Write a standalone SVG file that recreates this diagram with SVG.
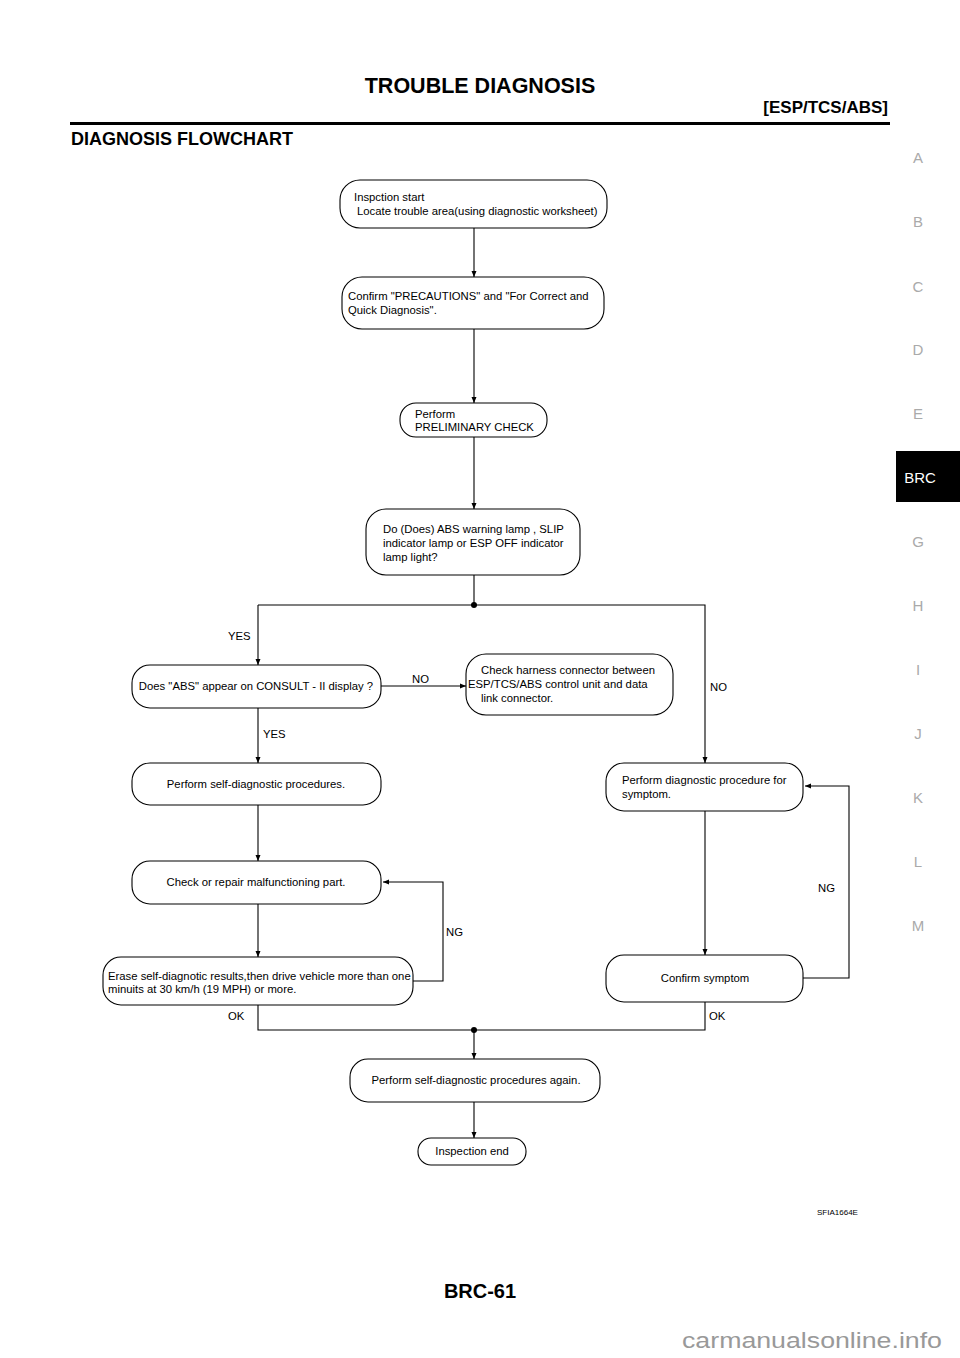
<svg xmlns="http://www.w3.org/2000/svg" width="960" height="1358" viewBox="0 0 960 1358">
<style>
.n{fill:#fff;stroke:#000;stroke-width:1.1}
.t{font-family:"Liberation Sans",Arial,sans-serif;font-size:11.3px;fill:#000}
.c{text-anchor:middle}
.w{stroke:#000;stroke-width:1.1;fill:none}
.side{font-family:"Liberation Sans",Arial,sans-serif;font-size:15px;fill:#aaa;text-anchor:middle}
</style>
<defs>
<marker id="ar" viewBox="0 0 6 6" refX="6" refY="3" markerWidth="6" markerHeight="6" orient="auto" markerUnits="userSpaceOnUse">
<path d="M0,0.5 L6,3 L0,5.5 z" fill="#000"/>
</marker>
</defs>
<rect width="960" height="1358" fill="#fff"/>
<g id="header">
<text x="480" y="93" font-family="Liberation Sans,Arial,sans-serif" font-size="21.5" font-weight="bold" text-anchor="middle">TROUBLE DIAGNOSIS</text>
<text x="888" y="113" font-family="Liberation Sans,Arial,sans-serif" font-size="17" font-weight="bold" text-anchor="end">[ESP/TCS/ABS]</text>
<rect x="70" y="122" width="820" height="3" fill="#000"/>
<text x="71" y="145" font-family="Liberation Sans,Arial,sans-serif" font-size="18" font-weight="bold">DIAGNOSIS FLOWCHART</text>
</g>
<g id="side-index">
<text class="side" x="918" y="163">A</text>
<text class="side" x="918" y="227">B</text>
<text class="side" x="918" y="292">C</text>
<text class="side" x="918" y="355">D</text>
<text class="side" x="918" y="419">E</text>
<rect x="896" y="451" width="64" height="51" fill="#000"/>
<text x="920" y="483" font-family="Liberation Sans,Arial,sans-serif" font-size="15" fill="#fff" text-anchor="middle">BRC</text>
<text class="side" x="918" y="547">G</text>
<text class="side" x="918" y="611">H</text>
<text class="side" x="918" y="675">I</text>
<text class="side" x="918" y="739">J</text>
<text class="side" x="918" y="803">K</text>
<text class="side" x="918" y="867">L</text>
<text class="side" x="918" y="931">M</text>
</g>
<g id="connectors">
<path class="w" d="M474,228 V277" marker-end="url(#ar)"/>
<path class="w" d="M474,329 V403" marker-end="url(#ar)"/>
<path class="w" d="M474,437 V509" marker-end="url(#ar)"/>
<path class="w" d="M474,575 V605"/>
<path class="w" d="M258,605 H705 V763" marker-end="url(#ar)"/>
<path class="w" d="M258,605 V665" marker-end="url(#ar)"/>
<circle cx="474" cy="605" r="3" fill="#000"/>
<path class="w" d="M381,686 H466" marker-end="url(#ar)"/>
<path class="w" d="M258,708 V763" marker-end="url(#ar)"/>
<path class="w" d="M258,805 V861" marker-end="url(#ar)"/>
<path class="w" d="M258,904 V957" marker-end="url(#ar)"/>
<path class="w" d="M413,981 H443 V882 H383" marker-end="url(#ar)"/>
<path class="w" d="M705,811 V955" marker-end="url(#ar)"/>
<path class="w" d="M803,978 H849 V786 H805" marker-end="url(#ar)"/>
<path class="w" d="M258,1005 V1030 H705 V1002"/>
<circle cx="474" cy="1030" r="3" fill="#000"/>
<path class="w" d="M474,1030 V1059" marker-end="url(#ar)"/>
<path class="w" d="M474,1102 V1138" marker-end="url(#ar)"/>
<text class="t" x="228" y="640">YES</text>
<text class="t" x="263" y="738">YES</text>
<text class="t" x="412" y="683">NO</text>
<text class="t" x="710" y="691">NO</text>
<text class="t" x="446" y="936">NG</text>
<text class="t" x="818" y="892">NG</text>
<text class="t" x="228" y="1020">OK</text>
<text class="t" x="709" y="1020">OK</text>
</g>
<g id="n1"><rect class="n" x="340" y="180" width="267" height="48" rx="20"/>
<text class="t" x="354" y="201">Inspction start</text><text class="t" x="357" y="215">Locate trouble area(using diagnostic worksheet)</text></g>
<g id="n2"><rect class="n" x="342" y="277" width="262" height="52" rx="20"/>
<text class="t" x="348" y="300">Confirm "PRECAUTIONS" and "For Correct and</text><text class="t" x="348" y="314">Quick Diagnosis".</text></g>
<g id="n3"><rect class="n" x="400" y="403" width="147" height="34" rx="16"/>
<text class="t" x="415" y="418">Perform</text><text class="t" x="415" y="431">PRELIMINARY CHECK</text></g>
<g id="n4"><rect class="n" x="366" y="509" width="214" height="66" rx="20"/>
<text class="t" x="383" y="533">Do (Does) ABS warning lamp , SLIP</text><text class="t" x="383" y="547">indicator lamp or ESP OFF indicator</text><text class="t" x="383" y="561">lamp light?</text></g>
<g id="n5"><rect class="n" x="132" y="665" width="249" height="43" rx="18"/>
<text class="t c" x="256" y="690">Does "ABS" appear on CONSULT - II display ?</text></g>
<g id="n6"><rect class="n" x="466" y="654" width="207" height="61" rx="20"/>
<text class="t" x="481" y="674">Check harness connector between</text><text class="t" x="468" y="688">ESP/TCS/ABS control unit and data</text><text class="t" x="481" y="702">link connector.</text></g>
<g id="n7"><rect class="n" x="132" y="763" width="249" height="42" rx="18"/>
<text class="t c" x="256" y="788">Perform self-diagnostic procedures.</text></g>
<g id="n8"><rect class="n" x="132" y="861" width="249" height="43" rx="18"/>
<text class="t c" x="256" y="886">Check or repair malfunctioning part.</text></g>
<g id="n9"><rect class="n" x="103" y="957" width="310" height="48" rx="18"/>
<text class="t" x="108" y="980">Erase self-diagnotic results,then drive vehicle more than one</text><text class="t" x="108" y="993">minuits at 30 km/h (19 MPH) or more.</text></g>
<g id="n10"><rect class="n" x="606" y="763" width="197" height="48" rx="18"/>
<text class="t" x="622" y="784">Perform diagnostic procedure for</text><text class="t" x="622" y="798">symptom.</text></g>
<g id="n11"><rect class="n" x="606" y="955" width="197" height="47" rx="18"/>
<text class="t c" x="705" y="982">Confirm  symptom</text></g>
<g id="n12"><rect class="n" x="350" y="1059" width="250" height="43" rx="18"/>
<text class="t c" x="476" y="1084">Perform self-diagnostic procedures again.</text></g>
<g id="n13"><rect class="n" x="418" y="1138" width="108" height="27" rx="13"/>
<text class="t c" x="472" y="1155">Inspection end</text></g>
<g id="footer">
<text x="817" y="1215" font-family="Liberation Sans,Arial,sans-serif" font-size="8">SFIA1664E</text>
<text x="480" y="1298" font-family="Liberation Sans,Arial,sans-serif" font-size="20" font-weight="bold" text-anchor="middle">BRC-61</text>
<text x="682" y="1348" font-family="Liberation Sans,Arial,sans-serif" font-size="22" fill="#999" textLength="260" lengthAdjust="spacingAndGlyphs">carmanualsonline.info</text>
</g>
</svg>
